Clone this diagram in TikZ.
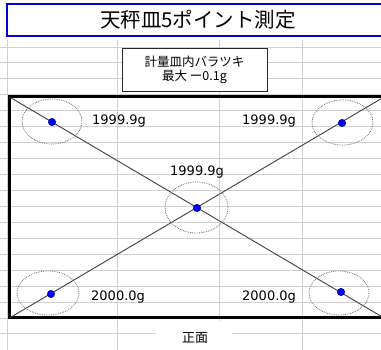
\documentclass[tikz,border=0pt]{standalone}
\usepackage{fontspec}
\setmainfont{Noto Sans CJK JP}
\newfontfamily\numfont{DejaVu Sans}
\begin{document}
\begin{tikzpicture}[x=1pt,y=-1pt,
  gridline/.style={draw=black!18, line width=0.9pt},
  ring/.style={draw=black!55, densely dotted, line width=0.8pt},
  dot/.style={circle, fill=blue, draw=blue!55!black, line width=0.4pt, inner sep=0pt, minimum size=7.5pt},
  wlabel/.style={font=\numfont\fontsize{13}{15}\selectfont, inner sep=0pt, anchor=west},
  titlebox/.style={draw=blue!85!black, line width=1.6pt, fill=white, minimum width=383pt, minimum height=32pt, inner sep=0pt, font=\fontsize{20.5}{24}\selectfont},
  notebox/.style={draw=black!85, line width=0.9pt, fill=white, minimum width=145pt, minimum height=43.5pt, inner sep=0pt, align=center, font=\fontsize{12.5}{13.5}\selectfont},
  diag/.style={draw=black!75, line width=0.9pt},
  plate/.style={draw=black, line width=3pt}
]
\useasboundingbox (0,0) rectangle (381,350);
\clip (0,0) rectangle (381,350);
\fill[white] (0,0) rectangle (381,350);
% spreadsheet grid
\foreach \k in {0,...,18} \draw[gridline] (0,{47+15.94*\k}) -- (381,{47+15.94*\k});
\foreach \x in {7,117,219,302} \draw[gridline] (\x,40) -- (\x,350);
% title
\node[titlebox] (title) at (198.5,20) {};
\node[inner sep=0pt, font=\fontsize{20.5}{24}\selectfont] (titletext) at (198,20) {天秤皿5ポイント測定};
% note box
\node[notebox] (note) at (194.5,70) {計量皿内バラツキ\\最大 ー0.1g};
% front label area
\fill[white] (156,321) rectangle (232,350);
\node[inner sep=0pt, font=\fontsize{13}{15}\selectfont] (front) at (195,338) {正面};
% plate
\coordinate (tl) at (9.5,97);
\coordinate (bl) at (9.5,318);
\coordinate (tr) at (384,97);
\coordinate (br) at (384,318);
\draw[plate] (tr) -- (tl) -- (bl) -- (br);
\draw[diag] (tl) -- (br);
\draw[diag] (bl) -- (tr);
% measuring zones
\draw[ring] (52,121.5) ellipse [x radius=30, y radius=22.5];
\draw[ring] (342.5,122.5) ellipse [x radius=30.5, y radius=22.5];
\draw[ring] (196.5,207.5) ellipse [x radius=31.5, y radius=25.5];
\draw[ring] (48,293) ellipse [x radius=31, y radius=22];
\draw[ring] (339,293) ellipse [x radius=30, y radius=22];
% points
\node[dot] (p1) at (52,122) {};
\node[dot] (p2) at (342,123) {};
\node[dot] (p3) at (197,208) {};
\node[dot] (p4) at (51,294) {};
\node[dot] (p5) at (341,292) {};
% values
\node[wlabel] (v1) at (92,121) {1999.9g};
\node[wlabel] (v2) at (242,121) {1999.9g};
\node[wlabel] (v3) at (170,172) {1999.9g};
\node[wlabel] (v4) at (91,297) {2000.0g};
\node[wlabel] (v5) at (242,297) {2000.0g};
\end{tikzpicture}
\end{document}
